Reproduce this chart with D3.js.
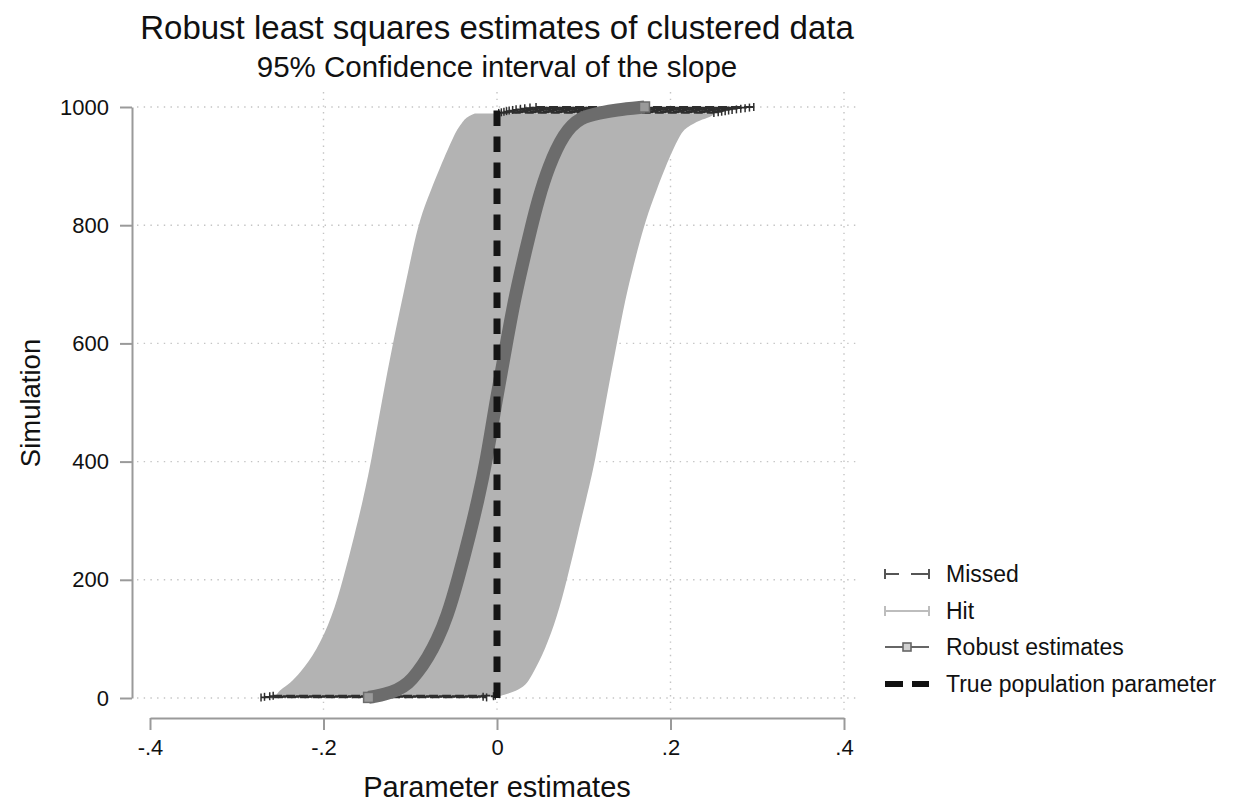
<!DOCTYPE html>
<html><head><meta charset="utf-8">
<script src="https://cdn.jsdelivr.net/npm/d3@7"></script>
<style>
html,body{margin:0;padding:0;background:#fff;}
text{font-family:"Liberation Sans",Arial,Helvetica,sans-serif;fill:#111;}
</style></head>
<body>
<svg id="chart" width="1235" height="803"></svg>
<script>
// ---- data ----
const title = "Robust least squares estimates of clustered data";
const subtitle = "95% Confidence interval of the slope";
const xTitle = "Parameter estimates";
const yTitle = "Simulation";
const xTicks = [-0.4, -0.2, 0, 0.2, 0.4];
const xTickLabels = ["-.4", "-.2", "0", ".2", ".4"];
const yTicks = [0, 200, 400, 600, 800, 1000];
const yTickLabels = ["0", "200", "400", "600", "800", "1000"];
const legendLabels = ["Missed", "Hit", "Robust estimates", "True population parameter"];

// CIs that contain the true value (hit), envelope by simulation number
const hitSim   = [3, 6, 14, 25, 42, 81, 137, 200, 279, 335, 399, 504, 601, 673, 729, 800, 843, 898, 956, 966, 978, 983, 989];
const hitLower = [-0.256, -0.254, -0.250, -0.2386, -0.2271, -0.2075, -0.1902, -0.1775, -0.1637, -0.1545, -0.1452, -0.1326, -0.1199, -0.1095, -0.1014, -0.0911, -0.0807, -0.0657, -0.0484, -0.0440, -0.0380, -0.0346, -0.0254];
const hitUpper = [0.002, 0.010, 0.0255, 0.035, 0.0415, 0.0553, 0.0692, 0.0807, 0.0934, 0.1025, 0.1130, 0.1256, 0.1383, 0.1476, 0.1568, 0.1695, 0.1798, 0.1937, 0.2115, 0.2190, 0.2340, 0.2460, 0.2520];

// CIs that miss the true value
const missSim   = [1, 2, 3, 4, 990, 991, 992, 993, 994, 995, 996, 997, 998, 999, 1000];
const missLower = [-0.272, -0.268, -0.262, -0.258, 0.002, 0.005, 0.008, 0.011, 0.014, 0.018, 0.022, 0.027, 0.032, 0.038, 0.045];
const missUpper = [-0.012, -0.016, -0.004, -0.002, 0.250, 0.255, 0.259, 0.263, 0.267, 0.271, 0.276, 0.281, 0.286, 0.291, 0.296];

// point estimates, sorted
const estSim = [1, 3, 6, 13, 25, 42, 69, 98, 137, 200, 279, 335, 399, 504, 601, 673, 729, 800, 843, 898, 956, 983, 990, 995, 1000];
const estVal = [-0.148, -0.140, -0.130, -0.115, -0.102, -0.092, -0.0795, -0.069, -0.0576, -0.045, -0.031, -0.022, -0.0125, -0.0010, 0.0110, 0.0200, 0.0285, 0.0400, 0.0475, 0.0590, 0.0770, 0.0960, 0.119, 0.136, 0.170];

const trueValue = 0;

// ---- drawing ----
const FONT = '"Liberation Sans",Arial,Helvetica,sans-serif';
const svg = d3.select("#chart");
svg.append("rect").attr("width",1235).attr("height",803).attr("fill","#fff");

const x = d3.scaleLinear().domain([-0.4, 0.4]).range([150, 844]);
const y = d3.scaleLinear().domain([0, 1000]).range([698, 107]);

const plotL = 137, plotR = 860, plotT = 92, plotB = 712;
const grid = svg.append("g");
grid.selectAll("line.h").data(yTicks).join("line")
  .attr("x1", plotL).attr("x2", plotR)
  .attr("y1", d => y(d)).attr("y2", d => y(d))
  .attr("stroke", "#c4c4c4").attr("stroke-width", 1.4).attr("stroke-dasharray", "1.4,5.3");
grid.selectAll("line.v").data(xTicks.filter(d => d > -0.4)).join("line")
  .attr("x1", d => x(d)).attr("x2", d => x(d))
  .attr("y1", plotT).attr("y2", plotB)
  .attr("stroke", "#c4c4c4").attr("stroke-width", 1.4).attr("stroke-dasharray", "1.4,5.3");

// axes
const axisColor = "#9a9a9a";
const yAxis = d3.axisLeft(y).tickValues(yTicks).tickFormat((d,i) => yTickLabels[i]).tickSize(12).tickSizeOuter(0).tickPadding(11);
const gy = svg.append("g").attr("transform", "translate(132,0)").call(yAxis);
const xAxis = d3.axisBottom(x).tickValues(xTicks).tickFormat((d,i) => xTickLabels[i]).tickSize(12).tickSizeOuter(0).tickPadding(9);
const gx = svg.append("g").attr("transform", "translate(0,718)").call(xAxis);
[gx, gy].forEach(g => {
  g.attr("font-family", FONT).attr("font-size", 22);
  g.select(".domain").attr("stroke", axisColor).attr("stroke-width", 2);
  g.selectAll(".tick line").attr("stroke", axisColor).attr("stroke-width", 2);
  g.selectAll(".tick text").attr("font-size", 22).attr("fill", "#111");
});

// hit CIs (dense horizontal caps -> envelope)
const hitData = hitSim.map((s,i) => ({s, lo: hitLower[i], hi: hitUpper[i]}));
svg.append("path").datum(hitData)
  .attr("d", d3.area().y(d => y(d.s)).x0(d => x(d.lo)).x1(d => x(d.hi)).curve(d3.curveBasis))
  .attr("fill", "#b3b3b3");

// missed CIs
const missData = missSim.map((s,i) => ({s, lo: missLower[i], hi: missUpper[i]}));
const mg = svg.append("g");
mg.selectAll("line.m").data(missData).join("line")
  .attr("x1", d => x(d.lo)).attr("x2", d => x(d.hi))
  .attr("y1", d => y(d.s)).attr("y2", d => y(d.s))
  .attr("stroke", "#2e2e2e").attr("stroke-width", 1.8).attr("stroke-dasharray", "9,4");
mg.selectAll("line.c1").data(missData).join("line")
  .attr("x1", d => x(d.lo)).attr("x2", d => x(d.lo))
  .attr("y1", d => y(d.s) - 4).attr("y2", d => y(d.s) + 4)
  .attr("stroke", "#2e2e2e").attr("stroke-width", 1.5);
mg.selectAll("line.c2").data(missData).join("line")
  .attr("x1", d => x(d.hi)).attr("x2", d => x(d.hi))
  .attr("y1", d => y(d.s) - 4).attr("y2", d => y(d.s) + 4)
  .attr("stroke", "#2e2e2e").attr("stroke-width", 1.5);

// robust estimates (dense hollow squares -> thick band)
const estData = estSim.map((s,i) => ({s, v: estVal[i]}));
svg.append("path").datum(estData)
  .attr("d", d3.line().y(d => y(d.s)).x(d => x(d.v)).curve(d3.curveBasis))
  .attr("fill", "none").attr("stroke", "#6c6c6c").attr("stroke-width", 13);
svg.selectAll("rect.em").data([estData[0], estData[estData.length-1]]).join("rect")
  .attr("x", d => x(d.v) - 5).attr("y", d => y(d.s) - 5).attr("width", 10).attr("height", 10)
  .attr("fill", "#9a9a9a").attr("stroke", "#6c6c6c").attr("stroke-width", 1.5);

// true population parameter
svg.append("line")
  .attr("x1", x(trueValue)).attr("x2", x(trueValue))
  .attr("y1", y(0)).attr("y2", y(1000))
  .attr("stroke", "#151515").attr("stroke-width", 7).attr("stroke-dasharray", "15.5,10.5");

// titles
svg.append("text").attr("x", 497).attr("y", 27).attr("dy", "0.35em").attr("text-anchor", "middle")
  .attr("font-size", 33).text(title);
svg.append("text").attr("x", 497).attr("y", 67).attr("dy", "0.35em").attr("text-anchor", "middle")
  .attr("font-size", 29.5).text(subtitle);
svg.append("text").attr("x", 497).attr("y", 787).attr("dy", "0.35em").attr("text-anchor", "middle")
  .attr("font-size", 29).text(xTitle);
svg.append("text").attr("transform", "translate(30,403) rotate(-90)").attr("dy", "0.35em").attr("text-anchor", "middle")
  .attr("font-size", 27.5).text(yTitle);

// legend
const lg = svg.append("g");
const ly = [574, 611, 647, 684];
const lx0 = 885, lx1 = 929;
lg.append("line").attr("x1", lx0).attr("x2", 899).attr("y1", ly[0]).attr("y2", ly[0]).attr("stroke", "#555").attr("stroke-width", 2);
lg.append("line").attr("x1", 911).attr("x2", lx1).attr("y1", ly[0]).attr("y2", ly[0]).attr("stroke", "#555").attr("stroke-width", 2);
[lx0, lx1].forEach(cx => lg.append("line").attr("x1", cx).attr("x2", cx).attr("y1", ly[0]-5).attr("y2", ly[0]+5).attr("stroke", "#555").attr("stroke-width", 2));
lg.append("line").attr("x1", lx0).attr("x2", lx1).attr("y1", ly[1]).attr("y2", ly[1]).attr("stroke", "#bdbdbd").attr("stroke-width", 2);
[lx0, lx1].forEach(cx => lg.append("line").attr("x1", cx).attr("x2", cx).attr("y1", ly[1]-5).attr("y2", ly[1]+5).attr("stroke", "#bdbdbd").attr("stroke-width", 2));
lg.append("line").attr("x1", lx0).attr("x2", lx1).attr("y1", ly[2]).attr("y2", ly[2]).attr("stroke", "#666").attr("stroke-width", 2);
lg.append("rect").attr("x", 903).attr("y", ly[2]-4).attr("width", 8).attr("height", 8).attr("fill", "#d0d0d0").attr("stroke", "#666").attr("stroke-width", 1.6);
lg.append("line").attr("x1", lx0).attr("x2", 903).attr("y1", ly[3]).attr("y2", ly[3]).attr("stroke", "#111").attr("stroke-width", 6);
lg.append("line").attr("x1", 912).attr("x2", lx1).attr("y1", ly[3]).attr("y2", ly[3]).attr("stroke", "#111").attr("stroke-width", 6);
lg.selectAll("text").data(legendLabels).join("text")
  .attr("x", 946).attr("y", (d,i) => ly[i]).attr("dy", "0.35em")
  .attr("font-size", 23).text(d => d);
</script>
</body></html>
